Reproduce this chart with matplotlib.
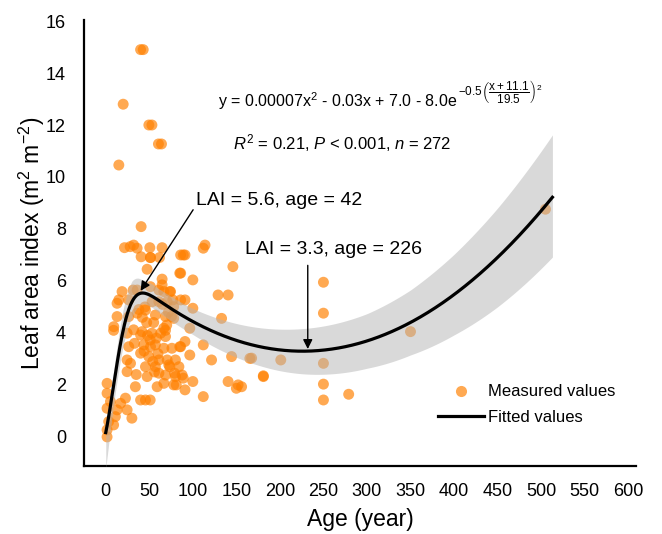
import numpy as np
import matplotlib
matplotlib.use("Agg")
import matplotlib.pyplot as plt
from matplotlib.lines import Line2D

plt.rcParams['font.family'] = ['Liberation Sans', 'DejaVu Sans']
plt.rcParams['mathtext.fontset'] = 'custom'
plt.rcParams['mathtext.rm'] = 'Liberation Sans'
plt.rcParams['mathtext.it'] = 'Liberation Sans:italic'
plt.rcParams['mathtext.bf'] = 'Liberation Sans:bold'

age = [40, 43, 20, 49.5, 53, 60.5, 64, 15,
       40.6, 21.5, 32, 28, 36, 50.6, 64.7, 40.6, 51.3, 51.3, 61.7, 47.5, 64.7, 64.7, 86, 86,
       18.7, 31.4, 36, 15, 26.4, 13, 51.3, 61, 66.7, 74.4, 53.2, 61, 70.5, 78, 86,
       13, 26.4, 36, 45.6, 57, 68.6, 78, 9.2, 32, 41.7, 53, 66.7, 68.6,
       9, 24.5, 40, 51, 63, 68.6, 26.4, 43.7, 51.4, 57, 66.7, 76, 86, 40, 49.4,
       24.5, 28.4, 61, 70.5, 80, 45.6, 57, 72.4, 84, 24.5, 47.5, 61, 68.6, 80, 87.7,
       66.7, 78, 59, 34, 1.5, 40, 45.6, 51, 22.6, 1.5, 5.4, 17, 13, 24.5, 30, 1.5, 11,
       3.4, 9, 1.5, 1.5,
       112, 114, 91, 89, 146, 100, 85, 129, 140.5, 91, 100, 133, 96.5, 73.6, 77, 75.5,
       91, 85, 112, 96.5, 121.5, 144.5, 165.5, 73.6, 79, 89, 100, 91, 81, 140.5, 152,
       150, 156, 112, 181,
       250, 250, 167.5, 201, 250, 181, 250, 250, 279, 350, 505,
       45, 55, 38, 58, 70, 44, 33, 56, 47, 60, 72, 35, 54, 65, 42, 48]
lai = [14.9, 14.9, 12.8, 12.0, 12.0, 11.27, 11.27, 10.46,
       8.09, 7.28, 7.38, 7.32, 7.26, 7.28, 7.28, 6.93, 6.9, 6.9, 6.9, 6.45, 6.07, 5.85, 7.0, 6.3,
       5.59, 5.65, 5.65, 5.27, 5.27, 5.14, 5.78, 5.65, 5.59, 5.59, 5.2, 5.2, 5.2, 5.01, 5.27,
       4.63, 4.63, 4.76, 4.88, 4.69, 4.63, 4.56, 4.24, 4.12, 4.05, 3.99, 4.18, 3.86,
       4.1, 3.99, 3.92, 3.73, 3.99, 4.1, 3.47, 3.54, 3.47, 3.54, 3.41, 3.41, 3.47, 3.22, 3.09,
       2.96, 2.83, 2.96, 2.96, 2.96, 2.7, 2.7, 2.77, 2.7, 2.51, 2.32, 2.45, 2.38, 2.32, 2.38,
       2.06, 2.0, 1.93, 1.93, 2.06, 1.42, 1.42, 1.42, 1.49, 1.68, 1.36, 1.29, 1.04, 1.04, 0.72, 1.1, 0.78,
       0.59, 0.46, 0.27, 0.0,
       7.26, 7.38, 7.0, 7.0, 6.55, 6.04, 6.3, 5.46, 5.46, 5.27, 4.95, 4.56, 4.18, 5.59, 5.27, 4.63,
       3.67, 3.47, 3.54, 3.15, 2.96, 3.09, 3.02, 2.7, 2.45, 2.26, 2.13, 1.81, 2.0, 2.13, 2.0,
       1.87, 1.93, 1.55, 2.32,
       5.95, 4.76, 3.03, 2.96, 2.83, 2.35, 2.03, 1.42, 1.64, 4.05, 8.76,
       5.0, 4.4, 4.9, 3.8, 4.3, 3.3, 3.6, 2.5, 4.4, 3.2, 4.8, 2.4, 2.9, 5.1, 4.6, 3.9]

# ---- fitted curve parameters ----
fit_a, fit_b, fit_c = 0.0000719, -0.0325, 6.97
fit_d, fit_mu, fit_sigma = 8.0, -11.1, 19.5
fit_age_max = 513

# ---- confidence band offsets around the fit ----
band_age = [0, 5, 10, 20, 30, 42, 60, 100, 150, 200, 226, 300, 350, 400, 450, 513]
band_up = [0.4, 0.5, 0.6, 0.8, 0.8, 0.5, 0.45, 0.5, 0.65, 0.8, 0.87, 1.05, 1.25, 1.55, 1.9, 2.4]
band_lo = [1.35, 0.9, 0.7, 0.6, 0.6, 0.4, 0.45, 0.5, 0.65, 0.8, 0.87, 1.05, 1.25, 1.55, 1.9, 2.3]

xticks = [0, 50, 100, 150, 200, 250, 300, 350, 400, 450, 500, 550, 600]
yticks = [0, 2, 4, 6, 8, 10, 12, 14, 16]

fig = plt.figure(figsize=(6.62, 5.34), dpi=100)
ax = fig.add_axes([84/662, 1-466/534, (636-84)/662, (466-20)/534])

xs = np.linspace(0, fit_age_max, 600)
ys = fit_a*xs**2 + fit_b*xs + fit_c - fit_d*np.exp(-0.5*((xs - fit_mu)/fit_sigma)**2)
up = ys + np.interp(xs, band_age, band_up)
lo = ys - np.interp(xs, band_age, band_lo)

ax.scatter(age, lai, s=62, color='#ff8000', alpha=0.68, edgecolors='none', zorder=2)
ax.fill_between(xs, lo, up, color=(0.706, 0.706, 0.706), alpha=0.5, lw=0, zorder=3)
ax.plot(xs, ys, color='black', lw=2.3, zorder=4)

ax.set_xlim(-25, 609)
ax.set_ylim(-1.12, 16.04)
ax.set_xticks(xticks)
ax.set_yticks(yticks)
ax.tick_params(axis='both', length=0, labelsize=13)
ax.tick_params(axis='x', pad=12)
ax.tick_params(axis='y', pad=13)
for s in ['top', 'right']:
    ax.spines[s].set_visible(False)
for s in ['left', 'bottom']:
    ax.spines[s].set_linewidth(1.6)

ax.set_xlabel('Age (year)', fontsize=16.5, labelpad=6)
ax.set_ylabel('Leaf area index (m$^2$ m$^{-2}$)', fontsize=16.5, labelpad=-1)

eq_main = ax.text(128.5, 12.9, r'y = 0.00007x$^2$ - 0.03x + 7.0 - 8.0e',
                  fontsize=11.5, ha='left', va='center')
ax.annotate(r'$-0.5\left(\dfrac{\mathrm{x + 11.1}}{\mathrm{19.5}}\right)^{\mathrm{2}}$',
            xy=(1, 0.95), xycoords=eq_main, xytext=(0.5, 0), textcoords='offset points',
            fontsize=8.5, ha='left', va='center')
ax.text(272, 11.3, r'$R^2$ = 0.21, $P$ < 0.001, $n$ = 272', fontsize=12, ha='center', va='center')

ax.annotate('LAI = 5.6, age = 42', xy=(40, 5.62), xytext=(199, 9.1), fontsize=14,
            ha='center', va='center',
            arrowprops=dict(arrowstyle='-|>', color='black', lw=1, shrinkA=0, shrinkB=0,
                            mutation_scale=14, relpos=(0, 0.2)), zorder=6)
ax.text(261, 7.2, 'LAI = 3.3, age = 226', fontsize=14, ha='center', va='center', zorder=6)
ax.annotate('', xy=(232, 3.38), xytext=(232, 6.6),
            arrowprops=dict(arrowstyle='-|>', color='black', lw=1, shrinkA=0, shrinkB=0,
                            mutation_scale=14), zorder=6)

handles = [Line2D([], [], marker='o', ls='none', markersize=8, color='#ff8000', alpha=0.68,
                  markeredgewidth=0),
           Line2D([], [], color='black', lw=2.3)]
ax.legend(handles, ['Measured values', 'Fitted values'], loc='upper left',
          bbox_to_anchor=(0.629, 0.198), frameon=False, fontsize=12, handlelength=2.75,
          handletextpad=0.24, labelspacing=0.62, borderaxespad=0)

fig.savefig('out.png', dpi=100)
